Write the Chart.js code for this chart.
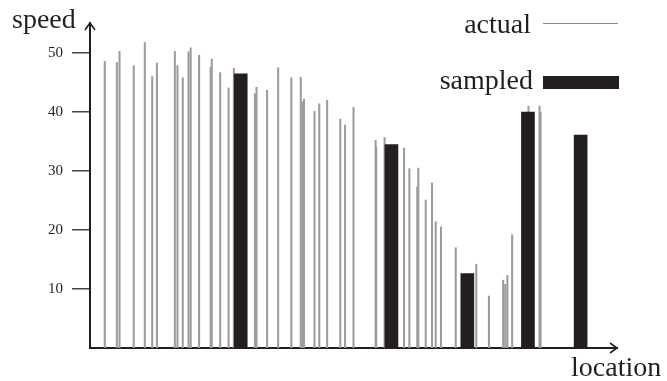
<!DOCTYPE html>
<html>
<head>
<meta charset="utf-8">
<script src="https://cdn.jsdelivr.net/npm/chart.js@4"></script>
<style>
  html, body { margin: 0; padding: 0; background: #fff; }
  #wrap { width: 667px; height: 381px; }
</style>
</head>
<body>
<div id="wrap"><canvas id="chart" width="667" height="381"></canvas></div>
<script>
// データここから
const actualLocations = [2.8, 5.1, 5.6, 8.3, 10.4, 11.8, 12.7, 16.1, 16.6, 17.6, 18.7, 19.1, 20.7, 22.9, 23.1, 24.7, 26.3, 27.3,
    31.3, 31.6, 33.6, 35.7, 38.2, 40.0, 40.3, 40.6, 42.6, 43.5, 45.0, 47.5, 48.4, 50.0,
    54.2, 54.3, 55.9, 59.6, 60.6, 62.1, 62.3, 63.7, 64.9, 65.6, 66.6, 69.4, 73.3, 75.7,
    78.4, 78.8, 79.2, 80.1, 83.2, 85.3, 85.5];
const actualSpeeds = [48.6, 48.4, 50.3, 47.9, 51.8, 46.0, 48.3, 50.3, 47.9, 45.8, 50.2, 50.9, 49.6, 47.6, 49.0, 46.7, 44.1, 47.4,
    43.1, 44.2, 43.7, 47.5, 45.8, 45.9, 41.7, 42.2, 40.1, 41.4, 42.0, 38.8, 37.8, 40.8,
    35.2, 34.0, 35.7, 33.9, 30.4, 27.3, 30.5, 25.1, 28.0, 21.4, 20.5, 17.0, 14.2, 8.8,
    11.5, 10.8, 12.3, 19.2, 41.0, 41.0, 40.0];
const sampledLocations = [28.6, 57.2, 71.6, 83.1, 93.1];
const sampledSpeeds = [46.5, 34.5, 12.6, 40.0, 36.1];
const speedTicks = [10, 20, 30, 40, 50];
// データここまで

const serif = "'Liberation Serif', 'DejaVu Serif', serif";
const ink = "#231f20";

function toPoints(xs, ys) {
    return xs.map((x, i) => ({ x: x, y: ys[i] }));
}

// 矢印・軸ラベル・凡例の描画
const decorPlugin = {
    id: "decor",
    afterDraw(chart) {
        const ctx = chart.ctx;
        const area = chart.chartArea;
        ctx.save();
        ctx.strokeStyle = ink;
        ctx.lineWidth = 1.6;
        // y軸の矢印
        ctx.beginPath();
        ctx.moveTo(area.left - 5, area.top + 7);
        ctx.lineTo(area.left, area.top);
        ctx.lineTo(area.left + 5, area.top + 7);
        ctx.stroke();
        // x軸の矢印
        ctx.beginPath();
        ctx.moveTo(area.right - 7, area.bottom - 5);
        ctx.lineTo(area.right, area.bottom);
        ctx.lineTo(area.right - 7, area.bottom + 5);
        ctx.stroke();

        ctx.fillStyle = ink;
        ctx.font = "28px " + serif;
        ctx.textBaseline = "alphabetic";
        ctx.textAlign = "left";
        ctx.fillText("speed", 12, 28);
        ctx.fillText("location", 571, 376);

        // 凡例
        ctx.textAlign = "right";
        ctx.fillText("actual", 531, 33);
        ctx.fillText("sampled", 533, 89);
        ctx.strokeStyle = "#8a8a8a";
        ctx.lineWidth = 1.2;
        ctx.beginPath();
        ctx.moveTo(543, 23.5);
        ctx.lineTo(618, 23.5);
        ctx.stroke();
        ctx.fillRect(543, 76, 76, 13);
        ctx.restore();
    },
};

new Chart(document.getElementById("chart"), {
    type: "bar",
    data: {
        datasets: [
            {
                label: "sampled",
                data: toPoints(sampledLocations, sampledSpeeds),
                backgroundColor: ink,
                barThickness: 13,
                grouped: false,
                order: 0,
            },
            {
                label: "actual",
                data: toPoints(actualLocations, actualSpeeds),
                backgroundColor: "#9c9c9c",
                barThickness: 1.4,
                grouped: false,
                order: 1,
            },
        ],
    },
    options: {
        responsive: false,
        animation: false,
        events: [],
        layout: { padding: { top: 23, right: 50, left: 0, bottom: 0 } },
        plugins: {
            legend: { display: false },
            tooltip: { enabled: false },
        },
        scales: {
            x: {
                type: "linear",
                min: 0,
                max: 100,
                offset: false,
                grid: { display: false },
                ticks: { display: false },
                border: { display: true, color: ink, width: 2 },
                afterFit(scale) {
                    scale.height = 33;
                },
            },
            y: {
                min: 0,
                max: 55.1,
                afterBuildTicks(scale) {
                    scale.ticks = speedTicks.map((v) => ({ value: v }));
                },
                grid: {
                    drawOnChartArea: false,
                    drawTicks: true,
                    tickLength: 18,
                    color: "#444",
                    lineWidth: 1.5,
                },
                border: { display: true, color: ink, width: 2 },
                ticks: {
                    padding: 9,
                    color: ink,
                    font: { family: serif, size: 15 },
                },
                afterFit(scale) {
                    scale.width = 90;
                },
            },
        },
    },
    plugins: [decorPlugin],
});
</script>
</body>
</html>
